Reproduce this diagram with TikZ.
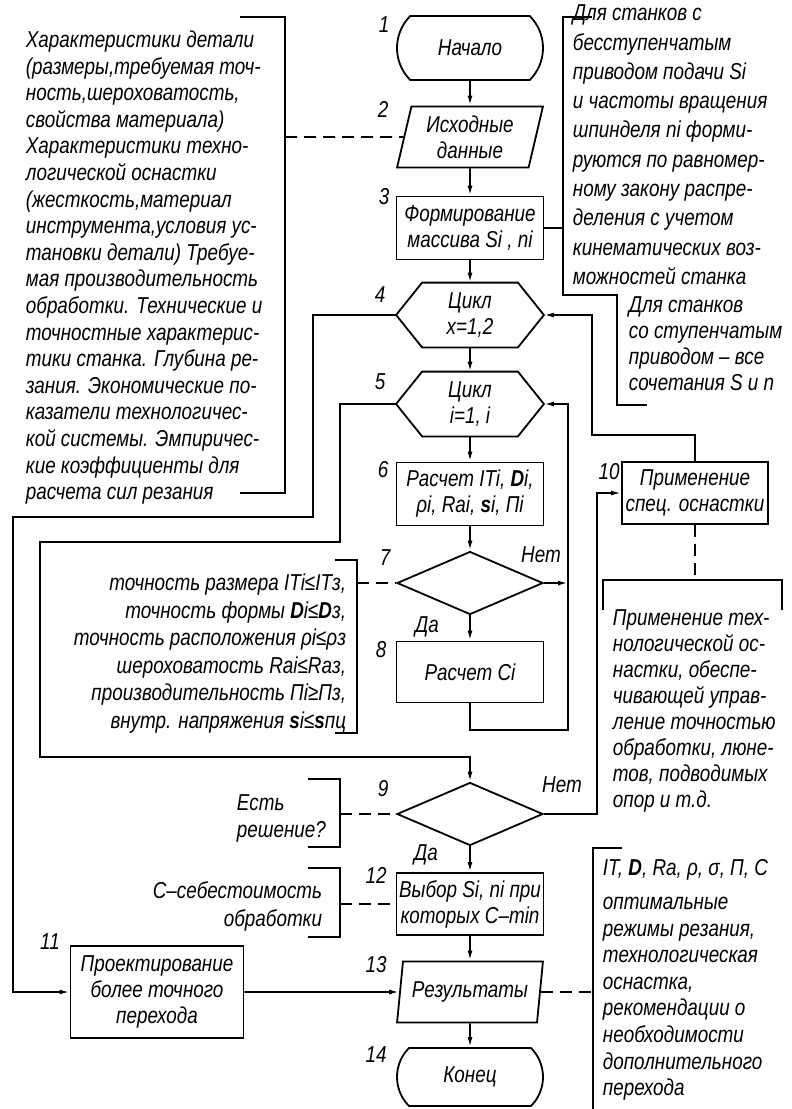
\documentclass[tikz,border=0pt]{standalone}
\usepackage{fontspec}
\setmainfont{Liberation Sans}[FakeStretch=0.82]
\usetikzlibrary{shapes.geometric, shapes.misc, arrows.meta}

% hexagon drawn round a plain node
\newcommand\hexframe[1]{%
  \draw (#1.west) -- ([xshift=26pt]#1.north west) -- ([xshift=-26pt]#1.north east)
        -- (#1.east) -- ([xshift=-26pt]#1.south east) -- ([xshift=26pt]#1.south west) -- cycle;}
\newcommand\txt[1]{\fontsize{23}{#1}\selectfont\itshape}

\begin{document}
\begin{tikzpicture}[x=1pt, y=-1pt, line width=1.8pt,
    every node/.style={font=\txt{26}},
    term/.style={draw, rounded rectangle, rounded rectangle arc length=90,
                 minimum width=146pt, minimum height=64pt, inner sep=0pt},
    io/.style={draw, trapezium, trapezium left angle=76, trapezium right angle=104,
               trapezium stretches, minimum width=146pt, minimum height=61pt,
               inner sep=0pt, align=center},
    proc/.style={draw, rectangle, minimum width=147pt, minimum height=63pt,
                 inner sep=0pt, align=center},
    cyc/.style={minimum width=146pt, minimum height=63pt, inner sep=0pt, align=center},
    cond/.style={draw, diamond, minimum width=146pt, minimum height=63pt, inner sep=0pt},
    note/.style={inner sep=0pt},
    arr/.style={-{Latex[length=10pt, width=5pt]}},
    link/.style={dash pattern=on 12pt off 7pt}]
  \fill[white] (0,0) rectangle (792,1109);
  \useasboundingbox (0,0) rectangle (792,1109);

  % main column
  \node[term] (start) at (470,48) {Начало};
  \node[io] (data) at (470,137) {Исходные\\данные};
  \node[proc] (mass) at (470,228) {Формирование\\массива Si , ni};
  \node[cyc] (loopx) at (470,315) {Цикл\\x=1,2};
  \hexframe{loopx}
  \node[cyc] (loopi) at (470,404) {Цикл\\i=1, i};
  \hexframe{loopi}
  \node[proc] (calc) at (470,494) {Расчет ITi, \textbf{D}i,\\ρi, Rai, \textbf{s}i, Пi};
  \node[cond] (check) at (470,583) {};
  \node[proc, minimum height=61pt] (cost) at (470,672) {Расчет Ci};
  \node[cond] (found) at (470,814) {};
  \node[proc, minimum height=62pt] (choice) at (470,904) {Выбор Si, ni при\\которых С--min};
  \node[io] (result) at (470,992) {Результаты};
  \node[term, minimum height=58pt] (finish) at (470,1077) {Конец};
  \node[proc, minimum width=146pt, minimum height=62pt] (tool) at (695,493) {Применение\\спец. оснастки};
  \node[proc, minimum width=173pt, minimum height=92pt] (redo) at (157,992)
       {Проектирование\\более точного\\перехода};

  % numbers
  \node (n1) at (384,25) {1};
  \node (n2) at (383,109) {2};
  \node (n3) at (384,197) {3};
  \node (n4) at (380,295) {4};
  \node (n5) at (380,382) {5};
  \node (n6) at (383,470) {6};
  \node (n7) at (385,558) {7};
  \node (n8) at (381,650) {8};
  \node (n9) at (383,789) {9};
  \node (n10) at (609,472) {10};
  \node (n11) at (50,942) {11};
  \node (n12) at (376,875) {12};
  \node (n13) at (376,965) {13};
  \node (n14) at (376,1055) {14};
  \node (yes7) at (427,627) {Да};
  \node (no7) at (541,555) {Нет};
  \node (yes9) at (426,855) {Да};
  \node (no9) at (562,785) {Нет};

  % flow
  \draw[arr] (start) -- (data);
  \draw[arr] (data) -- (mass);
  \draw[arr] (mass) -- (loopx);
  \draw[arr] (loopx) -- (loopi);
  \draw[arr] (loopi) -- (calc);
  \draw[arr] (calc) -- (check);
  \draw[arr] (check) -- (cost);
  \coordinate (rx) at (568,730);
  \draw[arr] (cost.south) |- (rx) |- (loopi.east);
  \draw[arr] (check.east) -- (check.east -| rx);
  \coordinate (li1) at (340,542);
  \coordinate (li2) at (40,757);
  \draw[arr] (loopi.west) -| (li1) -| (li2) -| (found.north);
  \coordinate (lx1) at (313,517);
  \coordinate (lx2) at (13,992);
  \draw[arr] (loopx.west) -| (lx1) -| (lx2) -- (redo.west);
  \coordinate (ny) at (597,493);
  \draw[arr] (found.east) -| (ny) -- (tool.west);
  \coordinate (ty) at (592,435);
  \draw[arr] (tool.north) |- (ty) |- (loopx.east);
  \draw[arr] (found) -- (choice);
  \draw[arr] (choice) -- (result);
  \draw[arr] (result) -- (finish);
  \draw[arr] (redo) -- (result);

  % notes
  \draw (240,17) -- (285,17) -- (285,493) -- (240,493);
  \coordinate (b1) at (285,137);
  \draw[link] (b1) -- (data.west);
  \node[note, anchor=north west, align=left, font=\txt{26.6}] (inputs) at (25,30)
    {Характеристики детали\\(размеры,требуемая точ-\\ность,шероховатость,\\свойства материала)\\
     Характеристики техно-\\логической оснастки\\(жесткость,материал\\инструмента,условия ус-\\
     тановки детали) Требуе-\\мая производительность\\обработки. Технические и\\
     точностные характерис-\\тики станка. Глубина ре-\\зания. Экономические по-\\
     казатели технологичес-\\кой системы. Эмпиричес-\\кие коэффициенты для\\расчета сил резания};

  \draw (592,17) -- (563,17) -- (563,295) -- (617,295) -- (617,405) -- (647,405);
  \coordinate (b2) at (563,228);
  \draw (mass.east) -- (b2);
  \node[note, anchor=north west, align=left, font=\txt{29.3}] (smooth) at (572,4)
    {Для станков с\\бесступенчатым\\приводом подачи Si\\и частоты вращения\\
     шпинделя ni форми-\\руются по равномер-\\ному закону распре-\\деления с учетом\\
     кинематических воз-\\можностей станка};
  \node[note, anchor=north west, align=left, font=\txt{26}] (steps) at (628,296)
    {Для станков\\со ступенчатым\\приводом -- все\\сочетания S и n};

  \draw (335,560) -- (357,560) -- (357,733) -- (335,733);
  \coordinate (b3) at (357,583);
  \draw[link] (b3) -- (check.west);
  \node[note, anchor=north east, align=right, font=\txt{27.6}] (limits) at (347,573)
    {точность размера ITi≤ITз,\\точность формы \textbf{D}i≤\textbf{D}з,\\
     точность расположения ρi≤ρз\\шероховатость Rai≤Raз,\\
     производительность Пi≥Пз,\\внутр. напряжения \textbf{s}i≤\textbf{s}пц};

  \draw (308,779) -- (340,779) -- (340,847) -- (308,847);
  \coordinate (b4) at (340,814);
  \draw[link] (b4) -- (found.west);
  \node[note, anchor=north west, align=left, font=\txt{27}] (ask) at (236,794)
    {Есть\\решение?};

  \draw (308,868) -- (340,868) -- (340,937) -- (308,937);
  \coordinate (b5) at (340,904);
  \draw[link] (b5) -- (choice.west);
  \node[note, anchor=north east, align=right, font=\txt{28}] (price) at (323,881)
    {С--себестоимость\\обработки};

  \draw (603,610) -- (603,580) -- (782,580) -- (782,610);
  \coordinate (b6) at (695,580);
  \draw[link] (tool.south) -- (b6);
  \node[note, anchor=north west, align=left, font=\txt{26}] (fixture) at (612,609)
    {Применение тех-\\нологической ос-\\настки, обеспе-\\чивающей управ-\\
     ление точностью\\обработки, люне-\\тов, подводимых\\опор и т.д.};

  \draw (622,848) -- (593,848) -- (593,1109);
  \coordinate (b7) at (593,992);
  \draw[link] (result.east) -- (b7);
  \node[note, anchor=north west, align=left, font=\txt{26.6}] (output) at (602,859)
    {IT, \textbf{D}, Ra, ρ, σ, П, С\\[7pt]оптимальные\\режимы резания,\\технологическая\\
     оснастка,\\рекомендации о\\необходимости\\дополнительного\\перехода};
\end{tikzpicture}
\end{document}
